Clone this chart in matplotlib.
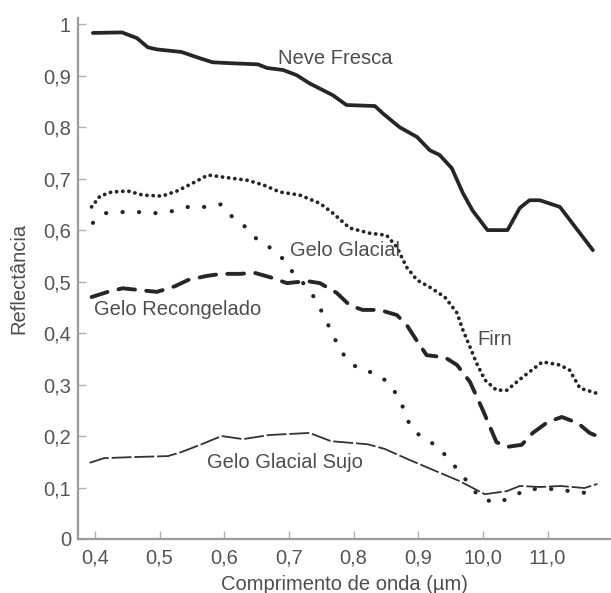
import matplotlib
matplotlib.use("Agg")
import matplotlib.pyplot as plt

plt.rcParams['font.family'] = ['Liberation Sans', 'DejaVu Sans']

# Data
neve_x = [0.397, 0.442, 0.465, 0.482, 0.496, 0.534, 0.562, 0.582, 0.613, 0.652, 0.666, 0.691,
          0.712, 0.732, 0.743, 0.768, 0.789, 0.833, 0.845, 0.871, 0.898, 0.918, 0.933, 0.952,
          0.969, 0.984, 1.007, 1.038, 1.057, 1.072, 1.088, 1.119, 1.170]
neve_y = [0.983, 0.984, 0.973, 0.955, 0.951, 0.946, 0.934, 0.926, 0.924, 0.922, 0.915, 0.911,
          0.901, 0.885, 0.878, 0.862, 0.843, 0.841, 0.827, 0.800, 0.781, 0.755, 0.746, 0.720,
          0.672, 0.638, 0.600, 0.600, 0.643, 0.658, 0.658, 0.645, 0.561]

firn_x = [0.395, 0.408, 0.426, 0.451, 0.474, 0.504, 0.527, 0.551, 0.575, 0.598, 0.635, 0.660,
          0.686, 0.717, 0.748, 0.768, 0.794, 0.825, 0.851, 0.867, 0.882, 0.898, 0.918, 0.941,
          0.960, 0.969, 0.980, 0.990, 1.003, 1.021, 1.037, 1.062, 1.092, 1.119, 1.134, 1.150, 1.176]
firn_y = [0.645, 0.666, 0.674, 0.676, 0.668, 0.666, 0.676, 0.691, 0.707, 0.703, 0.697, 0.688,
          0.674, 0.668, 0.652, 0.633, 0.604, 0.594, 0.590, 0.567, 0.528, 0.503, 0.489, 0.470,
          0.439, 0.406, 0.373, 0.342, 0.309, 0.289, 0.289, 0.315, 0.344, 0.338, 0.328, 0.293, 0.283]

glacial_x = [0.397, 0.417, 0.443, 0.468, 0.494, 0.521, 0.544, 0.570, 0.595, 0.613, 0.633, 0.650,
             0.672, 0.691, 0.706, 0.721, 0.740, 0.752, 0.763, 0.774, 0.788, 0.808, 0.833, 0.853,
             0.868, 0.879, 0.888, 0.907, 0.929, 0.946, 0.964, 0.980, 0.995, 1.020, 1.043, 1.068,
             1.092, 1.116, 1.142, 1.168]
glacial_y = [0.614, 0.633, 0.635, 0.635, 0.633, 0.637, 0.645, 0.645, 0.650, 0.625, 0.606, 0.583,
             0.565, 0.544, 0.518, 0.499, 0.468, 0.439, 0.410, 0.381, 0.351, 0.330, 0.322, 0.305,
             0.278, 0.249, 0.217, 0.196, 0.181, 0.157, 0.130, 0.105, 0.080, 0.070, 0.080, 0.097,
             0.097, 0.097, 0.091, 0.089]

recong_x = [0.395, 0.420, 0.443, 0.473, 0.496, 0.524, 0.544, 0.573, 0.596, 0.624, 0.647, 0.675,
            0.697, 0.728, 0.748, 0.774, 0.794, 0.814, 0.840, 0.867, 0.882, 0.899, 0.913, 0.941,
            0.960, 0.980, 1.000, 1.021, 1.038, 1.060, 1.077, 1.100, 1.122, 1.147, 1.165, 1.184]
recong_y = [0.470, 0.480, 0.487, 0.483, 0.480, 0.491, 0.503, 0.511, 0.515, 0.515, 0.517, 0.507,
            0.497, 0.501, 0.497, 0.478, 0.454, 0.445, 0.445, 0.435, 0.416, 0.383, 0.357, 0.353,
            0.338, 0.305, 0.250, 0.188, 0.179, 0.183, 0.206, 0.227, 0.237, 0.225, 0.206, 0.196]

sujo_x = [0.392, 0.414, 0.456, 0.513, 0.534, 0.565, 0.596, 0.629, 0.670, 0.732, 0.765, 0.822,
          0.848, 0.884, 0.927, 0.963, 1.003, 1.037, 1.057, 1.089, 1.120, 1.157, 1.177]
sujo_y = [0.148, 0.157, 0.159, 0.161, 0.169, 0.184, 0.200, 0.194, 0.202, 0.206, 0.190, 0.184,
          0.175, 0.155, 0.132, 0.113, 0.087, 0.093, 0.103, 0.101, 0.103, 0.099, 0.107]

xticks = [0.4, 0.5, 0.6, 0.7, 0.8, 0.9, 1.0, 1.1]
xticklabels = ["0,4", "0,5", "0,6", "0,7", "0,8", "0,9", "10,0", "11,0"]
yticks = [0, 0.1, 0.2, 0.3, 0.4, 0.5, 0.6, 0.7, 0.8, 0.9, 1.0]
yticklabels = ["0", "0,1", "0,2", "0,3", "0,4", "0,5", "0,6", "0,7", "0,8", "0,9", "1"]

labels = ["Neve Fresca", "Gelo Glacial", "Gelo Recongelado", "Firn", "Gelo Glacial Sujo"]
label_x = [0.771, 0.786, 0.528, 1.018, 0.694]
label_y = [0.934, 0.561, 0.445, 0.388, 0.148]

W, H = 611, 593
fig = plt.figure(figsize=(W / 100, H / 100), dpi=100)
ax = fig.add_axes([78 / W, (H - 539) / H, (W - 78) / W, (539 - 18) / H])

line_col = '#262626'
ax.plot(neve_x, neve_y, color=line_col, lw=2.7, solid_joinstyle='round', solid_capstyle='round')
ax.plot(firn_x, firn_y, color=line_col, lw=2.7, linestyle=(0, (0.05, 1.6)),
        dash_capstyle='round')
ax.plot(glacial_x, glacial_y, color=line_col, lw=3.0, linestyle=(0, (0.05, 3.9)),
        dash_capstyle='round')
ax.plot(recong_x, recong_y, color=line_col, lw=2.8, linestyle=(0, (4.3, 2.9)),
        dash_capstyle='round')
ax.plot(sujo_x, sujo_y, color='#333333', lw=1.3, linestyle=(0, (11, 1.6)))

txt_col = '#4d4d4d'
for lab, lx, ly in zip(labels, label_x, label_y):
    ax.text(lx, ly, lab, fontsize=14.5, color=txt_col, ha='center', va='center')

ax.set_xlim(0.374, 1.198)
ax.set_ylim(0, 1.012)
ax.set_xticks(xticks)
ax.set_xticklabels(xticklabels)
ax.set_yticks(yticks)
ax.set_yticklabels(yticklabels)

for s in ['top', 'right']:
    ax.spines[s].set_visible(False)
for s in ['left', 'bottom']:
    ax.spines[s].set_color('#9a9a9a')
    ax.spines[s].set_linewidth(1.6)

ax.tick_params(axis='both', direction='in', length=6, width=1.0, color='#b0b0b0',
               labelsize=14.5, labelcolor='#555555')
ax.tick_params(axis='x', pad=7)
ax.tick_params(axis='y', pad=5)

ax.set_xlabel("Comprimento de onda (µm)", fontsize=14.5, color=txt_col, labelpad=5)
ax.set_ylabel("Reflectância", fontsize=14.5, color=txt_col, labelpad=11)

fig.savefig("out.png", dpi=100)
